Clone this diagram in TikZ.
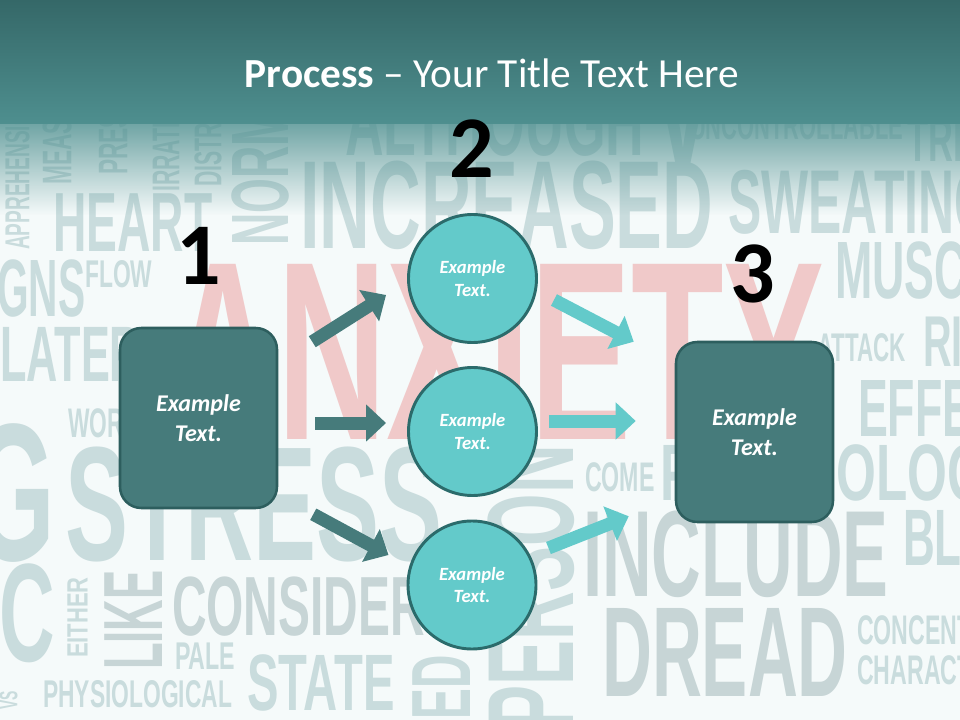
\documentclass[tikz,border=0pt]{standalone}
\usepackage{fontspec}
\setmainfont{Carlito}
\newfontfamily\wordfont{Liberation Sans}
\usetikzlibrary{arrows.meta,fadings}
\definecolor{bartop}{HTML}{356868}
\definecolor{barbot}{HTML}{4E8F8F}
\definecolor{paper}{HTML}{F5FAFA}
\definecolor{wordgray}{HTML}{C9DCDD}
\definecolor{wordgrey}{HTML}{C7D5D6}
\definecolor{anxpink}{HTML}{F0C9C9}
\definecolor{boxfill}{HTML}{467B7B}
\definecolor{boxline}{HTML}{2D5E5E}
\definecolor{ringfill}{HTML}{63CACA}
\definecolor{ringline}{HTML}{2B6B6B}
\newcommand{\wsize}[1]{\fontsize{#1}{#1}\selectfont}
\tikzfading[name=fadedown, top color=transparent!20, bottom color=transparent!100]
\tikzset{
  word/.style={anchor=south west, inner sep=0pt, text=wordgray, font=\wordfont\bfseries},
  upword/.style={word, rotate=90},
  stepbox/.style={draw=boxline, line width=1.9pt, fill=boxfill, rounded corners=16pt,
    minimum width=117.75pt, minimum height=135pt, text=white, align=center,
    font=\bfseries\itshape\fontsize{18}{22}\selectfont},
  ring/.style={circle, draw=ringline, line width=2.2pt, fill=ringfill, minimum size=96pt,
    text=white, align=center, font=\bfseries\itshape\fontsize{14}{17}\selectfont},
  stepnum/.style={anchor=base, font=\bfseries\fontsize{66}{66}\selectfont},
  darrow/.style={draw=boxfill, line width=9.75pt, -{Triangle[length=15pt,width=27pt]}},
  carrow/.style={draw=ringfill, line width=9.75pt, -{Triangle[length=15pt,width=27pt]}}
}
\begin{document}
\begin{tikzpicture}[x=0.75pt,y=-0.75pt]
\useasboundingbox (0,0) rectangle (960,720);
\fill[paper] (0,0) rectangle (960,720);
\begin{scope}
\clip (0,0) rectangle (960,720);
% word cloud behind the process
\node[word, xscale=.55] at (345,157) {\wsize{73}ALTHOUGH};
\node[word, xscale=.55] at (652,168) {\wsize{126}V};
\node[word, xscale=.53] at (690,140) {\wsize{31}UNCONTROLLABLE};
\node[word, xscale=.55] at (907,162) {\wsize{47}TRICK};
\node[upword, xscale=.55] at (30,250) {\wsize{26}APPREHENSION};
\node[upword, xscale=.55] at (72,185) {\wsize{31}MEASURE};
\node[upword, xscale=.55] at (128,175) {\wsize{31}PRESSURE};
\node[upword, xscale=.55] at (180,192) {\wsize{29}IRRATIONAL};
\node[upword, xscale=.55] at (222,187) {\wsize{29}DISTRESS};
\node[upword, xscale=.55] at (290,246) {\wsize{61}NORMAL};
\node[word, xscale=.55] at (53,252) {\wsize{63}HEART};
\node[word, xscale=.56] at (300,250) {\wsize{94}INCREASED};
\node[word, xscale=.55] at (728,235) {\wsize{68}SWEATING};
\node[word, xscale=.59] at (85,288) {\wsize{29}FLOW};
\node[word, xscale=.5] at (-3,318) {\wsize{61}GNS};
\node[word, xscale=.55] at (0,382) {\wsize{59}LATER};
\node[word, xscale=.55] at (835,300) {\wsize{61}MUSCLE};
\node[word, xscale=.56] at (817,362) {\wsize{30}ATTACK};
\node[word, xscale=.55] at (923,367) {\wsize{54}RISK};
\node[word, xscale=.55] at (858,438) {\wsize{61}EFFECT};
\node[word, xscale=.64] at (660,502) {\wsize{60}PSYCHOLOGICAL};
\node[word, xscale=.56] at (585,492) {\wsize{31}COME};
\node[word, xscale=.55] at (903,567) {\wsize{60}BLOOD};
\node[word, text=wordgrey, xscale=.56] at (583,598) {\wsize{92}INCLUDE};
\node[word, text=wordgrey, xscale=.54] at (602,697) {\wsize{96}DREAD};
\node[word, xscale=.56] at (857,645) {\wsize{31}CONCENTRATION};
\node[word, xscale=.56] at (857,685) {\wsize{31}CHARACTERISTIC};
\node[word, xscale=.55] at (68,438) {\wsize{31}WORRY};
\node[word, anchor=south east, xscale=.55] at (55,563) {\wsize{147}FEELING};
\node[word, xscale=.58] at (65,562) {\wsize{122}STRESS};
\node[word, anchor=south east, xscale=.55] at (55,663) {\wsize{105}PANIC};
\node[upword, xscale=.75] at (88,658) {\wsize{22}EITHER};
\node[upword, text=wordgrey, xscale=.52] at (163,670) {\wsize{63}LIKE};
\node[word, text=wordgrey, xscale=.57] at (172,637) {\wsize{63}CONSIDER};
\node[word, xscale=.6] at (175,670) {\wsize{29}PALE};
\node[word, xscale=.59] at (247,712) {\wsize{60}STATE};
\node[word, xscale=.59] at (43,708) {\wsize{29}PHYSIOLOGICAL};
\node[upword, xscale=.55] at (18,710) {\wsize{19}VS};
\node[upword, anchor=south east, xscale=.55] at (472,655) {\wsize{63}WORRIED};
\node[upword, anchor=south east, xscale=.55] at (575,445) {\wsize{92}PERSON};
\node[word, text=anxpink, xscale=.595] at (168,440) {\wsize{191}ANXIETY};
\end{scope}
% title bar
\shade[top color=bartop, bottom color=barbot] (0,0) rectangle (960,124);
\fill[barbot, path fading=fadedown] (0,123) rectangle (960,215);
\node[anchor=base, text=white, font=\fontsize{31}{37}\selectfont] (title) at (492,88)
  {\textbf{Process} -- Your Title Text Here};
% steps
\node[stepbox] (box1) at (198.5,418) {Example\\Text.};
\node[stepbox] (box3) at (754.5,432) {Example\\Text.};
\node[ring] (c1) at (472.5,278.5) {Example\\Text.};
\node[ring] (c2) at (472.5,431.5) {Example\\Text.};
\node[ring] (c3) at (472,585) {Example\\Text.};
\node[stepnum] (n1) at (199,285) {1};
\node[stepnum] (n2) at (472,178) {2};
\node[stepnum] (n3) at (753,302) {3};
% arrows
\draw[darrow] ([shift={(34,15)}]box1.north east) -- ([shift={(-21,16.5)}]c1.west);
\draw[darrow] ([shift={(37,5)}]box1.east) -- ([shift={(-21,-8.5)}]c2.west);
\draw[darrow] ([shift={(35,5)}]box1.south east) -- ([shift={(-18,-30)}]c3.west);
\draw[carrow] ([shift={(16,21.5)}]c1.east) -- ([shift={(-41,1)}]box3.north west);
\draw[carrow] ([shift={(11,-10.5)}]c2.east) -- ([shift={(-39,-11)}]box3.west);
\draw[carrow] ([shift={(11,-37)}]c3.east) -- ([shift={(-46,-7)}]box3.south west);
\end{tikzpicture}
\end{document}
